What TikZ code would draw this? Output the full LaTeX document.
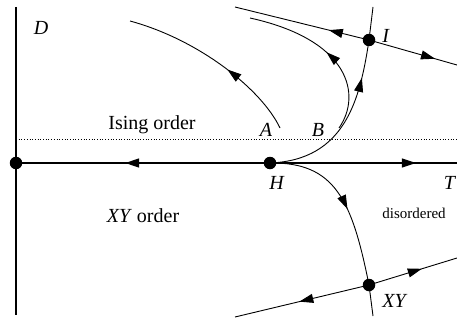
\documentclass[tikz,border=0pt]{standalone}
\usepackage{fontspec}
\setmainfont{Liberation Serif}
\usetikzlibrary{arrows.meta,decorations.markings}
\tikzset{
  dot/.style={circle,fill=black,inner sep=0pt,minimum size=12.5pt},
  flow/.style={line width=0.9pt},
  axis/.style={line width=1.3pt},
  tip/.style={decoration={markings,mark=at position #1 with {\arrow{Triangle[length=14pt,width=9pt]}}},postaction=decorate},
  lab/.style={font=\fontsize{20}{24}\selectfont,anchor=base,inner sep=0pt},
  small/.style={font=\fontsize{15}{18}\selectfont,anchor=base,inner sep=0pt}
}
\begin{document}
\begin{tikzpicture}[x=1pt,y=-1pt]
\useasboundingbox (0,0) rectangle (457,321);
% fixed points and free ends
\node[dot] (O) at (16,163) {};
\node[dot] (H) at (270,163) {};
\node[dot] (I) at (369,40) {};
\node[dot] (XY) at (369,285) {};
\coordinate (atop) at (16,7);
\coordinate (abot) at (16,315);
\coordinate (aright) at (457,163);
\coordinate (dl) at (16,139);
\coordinate (dr) at (457,139);
\coordinate (Ia) at (235,7);
\coordinate (Ib) at (457,65);
\coordinate (Itop) at (373,7);
\coordinate (Xa) at (235,317);
\coordinate (Xb) at (457,258);
\coordinate (Xbot) at (373,316);
\coordinate (As) at (280,128);
\coordinate (Ae) at (130,21);
\coordinate (Bs) at (339,128);
\coordinate (Be) at (250,18);
% axes
\draw[axis] (atop) -- (abot);
\draw[axis,tip=0.57] (H.center) -- (O.center);
\draw[axis,tip=0.78] (H.center) -- (aright);
\draw[dotted,line width=0.7pt] (dl) -- (dr);
% flows through I
\draw[flow,tip=0.3] (I.center) -- (Ia);
\draw[flow,tip=0.75] (I.center) -- (Ib);
\draw[flow,tip=0.78] (H.center) .. controls (345,160) and (360,100) .. (I.center);
\draw[flow] (I.center) -- (Itop);
% flows through XY
\draw[flow,tip=0.52] (XY.center) -- (Xa);
\draw[flow,tip=0.6] (XY.center) -- (Xb);
\draw[flow,tip=0.55] (H.center) .. controls (335,162) and (352,200) .. (XY.center);
\draw[flow] (XY.center) -- (Xbot);
% trajectories A and B
\draw[flow,tip=0.42] (As) .. controls (262,90) and (200,40) .. (Ae);
\draw[flow,tip=0.5] (Bs) .. controls (362,95) and (350,40) .. (Be);
% labels
\node[lab] (tD) at (41,35) {\textit{D}};
\node[lab] (tIsing) at (152,129) {Ising order};
\node[lab] (tXYo) at (143,222) {\textit{XY} order};
\node[lab] (tA) at (266,136) {\textit{A}};
\node[lab] (tB) at (318,136) {\textit{B}};
\node[lab] (tI) at (386,43) {\textit{I}};
\node[lab] (tH) at (277,189) {\textit{H}};
\node[lab] (tT) at (450,189) {\textit{T}};
\node[small] (tdis) at (414,218) {disordered};
\node[lab] (tXY) at (395,307) {\textit{XY}};
\end{tikzpicture}
\end{document}
